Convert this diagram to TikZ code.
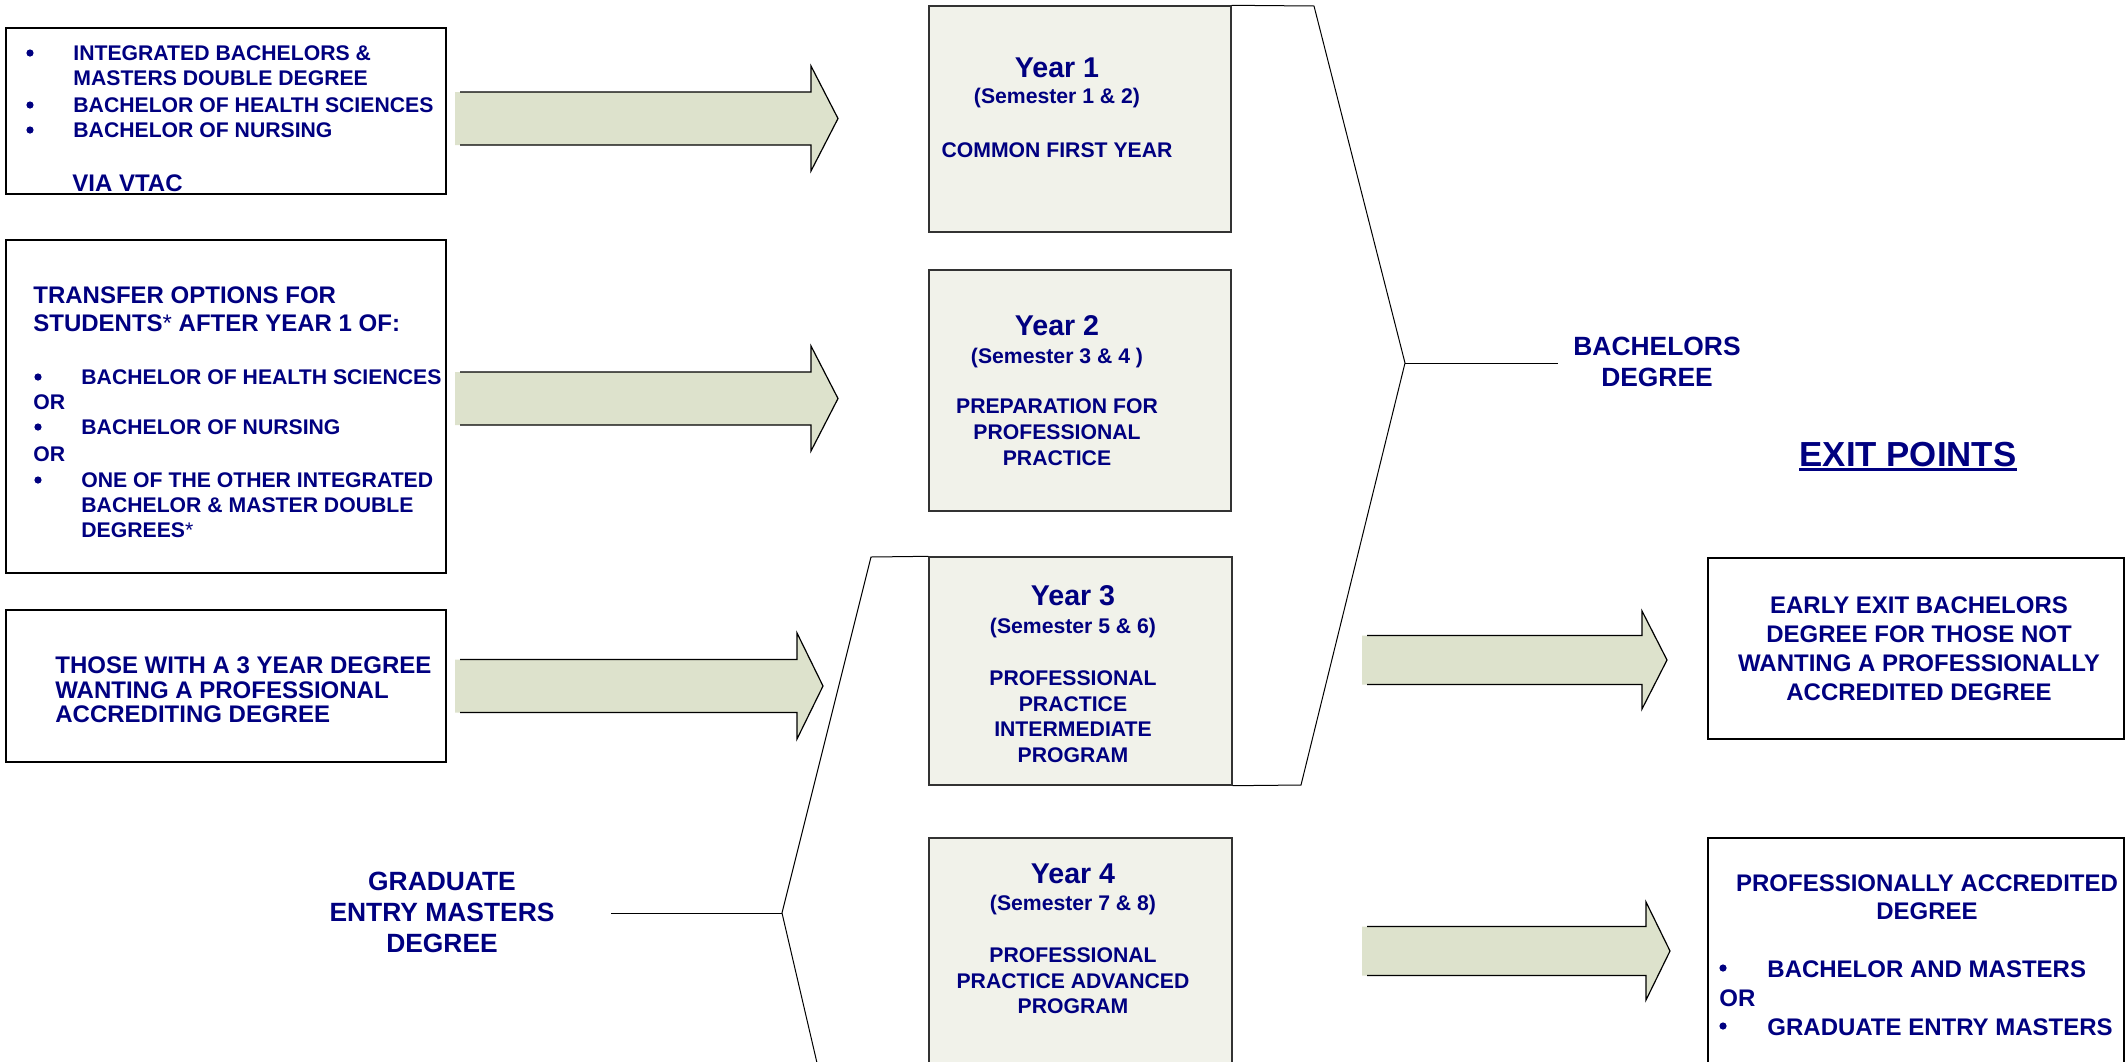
\documentclass[tikz,border=0pt]{standalone}
\usepackage{fontspec}
\setmainfont{Liberation Sans}
\usetikzlibrary{fit}
\definecolor{navy}{RGB}{0,0,128}
\definecolor{yearfill}{RGB}{241,242,234}
\definecolor{arrowfill}{RGB}{221,226,204}
\newcommand\fbody{\fontsize{10.6}{12}\selectfont\bfseries}
\newcommand\fmid{\fontsize{12}{14}\selectfont\bfseries}
\newcommand\fyear{\fontsize{14.3}{16}\selectfont\bfseries}
\newcommand\fbig{\fontsize{13.2}{15}\selectfont\bfseries}
\newcommand\fexit{\fontsize{17.4}{20}\selectfont\bfseries}
% left x, head base x, tip x, centre y, shaft half height, head half height
\newcommand\fatarrow[6]{%
  \fill[arrowfill] (#1,#4-#5) -- (#2,#4-#5) -- (#2,#4-#6) -- (#3,#4) -- (#2,#4+#6) -- (#2,#4+#5) -- (#1,#4+#5) -- cycle;
  \draw[arrowline] (#1+5,#4-#5) -- (#2,#4-#5) -- (#2,#4-#6) -- (#3,#4) -- (#2,#4+#6) -- (#2,#4+#5) -- (#1+5,#4+#5);
}
\tikzset{
  t/.style={inner sep=0pt, text=navy, anchor=base west},
  tc/.style={inner sep=0pt, text=navy, anchor=base},
  bul/.style={circle, fill=navy, inner sep=0pt, minimum size=3.6pt},
  leftbox/.style={draw=black, line width=1pt, inner sep=0pt},
  yearbox/.style={draw=black!80, fill=yearfill, line width=0.7pt, inner sep=0pt},
  arrowline/.style={draw=black, line width=0.6pt, line join=miter},
  bracket/.style={draw=black, line width=0.5pt},
}
\begin{document}
\begin{tikzpicture}[x=0.5pt,y=-0.5pt]
\useasboundingbox (0,0) rectangle (2125,1061);
\clip (0,0) rectangle (2125,1061);

% ---------- left boxes ----------
\node[leftbox, fit={(6,28) (446,194)}] (b1) {};
\node[leftbox, fit={(6,240) (446,573)}] (b2) {};
\node[leftbox, fit={(6,610) (446,762)}] (b3) {};

\node[bul] (b1d1) at (30,53) {};
\node[t,font=\fbody] (b1l1) at (73,60) {INTEGRATED BACHELORS \&};
\node[t,font=\fbody] (b1l2) at (73,85) {MASTERS DOUBLE DEGREE};
\node[bul] (b1d2) at (30,105) {};
\node[t,font=\fbody] (b1l3) at (73,112) {BACHELOR OF HEALTH SCIENCES};
\node[bul] (b1d3) at (30,130) {};
\node[t,font=\fbody] (b1l4) at (73,137) {BACHELOR OF NURSING};
\node[t,font=\fmid] (b1l5) at (72,191) {VIA VTAC};

\node[t,font=\fmid] (b2l1) at (33,303) {TRANSFER OPTIONS FOR};
\node[t,font=\fmid] (b2l2) at (33,331) {STUDENTS{\mdseries*} AFTER YEAR 1 OF:};
\node[bul] (b2d1) at (38,377) {};
\node[t,font=\fbody] (b2l3) at (81,384) {BACHELOR OF HEALTH SCIENCES};
\node[t,font=\fbody] (b2l4) at (33,409) {OR};
\node[bul] (b2d2) at (38,427) {};
\node[t,font=\fbody] (b2l5) at (81,434) {BACHELOR OF NURSING};
\node[t,font=\fbody] (b2l6) at (33,461) {OR};
\node[bul] (b2d3) at (38,480) {};
\node[t,font=\fbody] (b2l7) at (81,487) {ONE OF THE OTHER INTEGRATED};
\node[t,font=\fbody] (b2l8) at (81,512) {BACHELOR \& MASTER DOUBLE};
\node[t,font=\fbody] (b2l9) at (81,537) {DEGREES{\mdseries*}};

\node[t,font=\fmid] (b3l1) at (55,673) {THOSE WITH A 3 YEAR DEGREE};
\node[t,font=\fmid] (b3l2) at (55,698) {WANTING A PROFESSIONAL};
\node[t,font=\fmid] (b3l3) at (55,722) {ACCREDITING DEGREE};

% ---------- fat arrows ----------
\fatarrow{455}{811}{838}{118.5}{26.5}{52.5}
\fatarrow{455}{811}{838}{398.5}{26.5}{52.5}
\fatarrow{455}{797}{823}{686}{26.5}{53}
\fatarrow{1362}{1642}{1667}{660}{24.5}{49}
\fatarrow{1362}{1646}{1670}{951}{24.5}{49}

% ---------- year boxes ----------
\node[yearbox, fit={(929,6) (1231,232)}] (y1) {};
\node[yearbox, fit={(929,270) (1231,511)}] (y2) {};
\node[yearbox, fit={(929,557) (1232,785)}] (y3) {};
\node[yearbox, fit={(929,838) (1232,1100)}] (y4) {};

\node[tc,font=\fyear] (y1a) at (1057,77) {Year 1};
\node[tc,font=\fbody] (y1b) at (1057,103) {(Semester 1 \& 2)};
\node[tc,font=\fbody] (y1c) at (1057,157) {COMMON FIRST YEAR};

\node[tc,font=\fyear] (y2a) at (1057,335) {Year 2};
\node[tc,font=\fbody] (y2b) at (1057,363) {(Semester 3 \& 4 )};
\node[tc,font=\fbody] (y2c) at (1057,413) {PREPARATION FOR};
\node[tc,font=\fbody] (y2d) at (1057,439) {PROFESSIONAL};
\node[tc,font=\fbody] (y2e) at (1057,465) {PRACTICE};

\node[tc,font=\fyear] (y3a) at (1073,605) {Year 3};
\node[tc,font=\fbody] (y3b) at (1073,633) {(Semester 5 \& 6)};
\node[tc,font=\fbody] (y3c) at (1073,685) {PROFESSIONAL};
\node[tc,font=\fbody] (y3d) at (1073,711) {PRACTICE};
\node[tc,font=\fbody] (y3e) at (1073,736) {INTERMEDIATE};
\node[tc,font=\fbody] (y3f) at (1073,762) {PROGRAM};

\node[tc,font=\fyear] (y4a) at (1073,883) {Year 4};
\node[tc,font=\fbody] (y4b) at (1073,910) {(Semester 7 \& 8)};
\node[tc,font=\fbody] (y4c) at (1073,962) {PROFESSIONAL};
\node[tc,font=\fbody] (y4d) at (1073,988) {PRACTICE ADVANCED};
\node[tc,font=\fbody] (y4e) at (1073,1013) {PROGRAM};

% ---------- brackets ----------
\coordinate (rt) at (1314,6);
\coordinate (rm) at (1405,363);
\coordinate (rb) at (1301,785);
\coordinate (bend) at (1558,363);
\draw[bracket] (y1.north east) -- (rt) -- (rm) -- (rb) -- (y3.south east);
\draw[bracket] (rm) -- (bend);

\coordinate (lt) at (871,557);
\coordinate (lm) at (782,913);
\coordinate (lb) at (821,1080);
\coordinate (gs) at (611,913);
\draw[bracket] (y3.north west) -- (lt) -- (lm) -- (lb);
\draw[bracket] (gs) -- (lm);

\node[tc,font=\fbig] (ba1) at (1657,355) {BACHELORS};
\node[tc,font=\fbig] (ba2) at (1657,386) {DEGREE};

\node[tc,font=\fbig] (gr1) at (442,890) {GRADUATE};
\node[tc,font=\fbig] (gr2) at (442,921) {ENTRY MASTERS};
\node[tc,font=\fbig] (gr3) at (442,952) {DEGREE};

% ---------- exit points ----------
\node[tc,font=\fexit] (ep) at (1908,466) {EXIT POINTS};
\draw[navy, line width=1.3pt] ([yshift=-1.8pt]ep.base west) -- ([yshift=-1.8pt]ep.base east);

\node[leftbox, fit={(1708,558) (2124,739)}] (e1) {};
\node[leftbox, fit={(1708,838) (2124,1100)}] (e2) {};

\node[tc,font=\fmid] (e1a) at (1919,613) {EARLY EXIT BACHELORS};
\node[tc,font=\fmid] (e1b) at (1919,642) {DEGREE FOR THOSE NOT};
\node[tc,font=\fmid] (e1c) at (1919,671) {WANTING A PROFESSIONALLY};
\node[tc,font=\fmid] (e1d) at (1919,700) {ACCREDITED DEGREE};

\node[tc,font=\fmid] (e2a) at (1927,891) {PROFESSIONALLY ACCREDITED};
\node[tc,font=\fmid] (e2b) at (1927,919) {DEGREE};
\node[bul] (e2d1) at (1723,968) {};
\node[t,font=\fmid] (e2c) at (1767,977) {BACHELOR AND MASTERS};
\node[t,font=\fmid] (e2d) at (1719,1006) {OR};
\node[bul] (e2d2) at (1723,1026) {};
\node[t,font=\fmid] (e2e) at (1767,1035) {GRADUATE ENTRY MASTERS};
\end{tikzpicture}
\end{document}
